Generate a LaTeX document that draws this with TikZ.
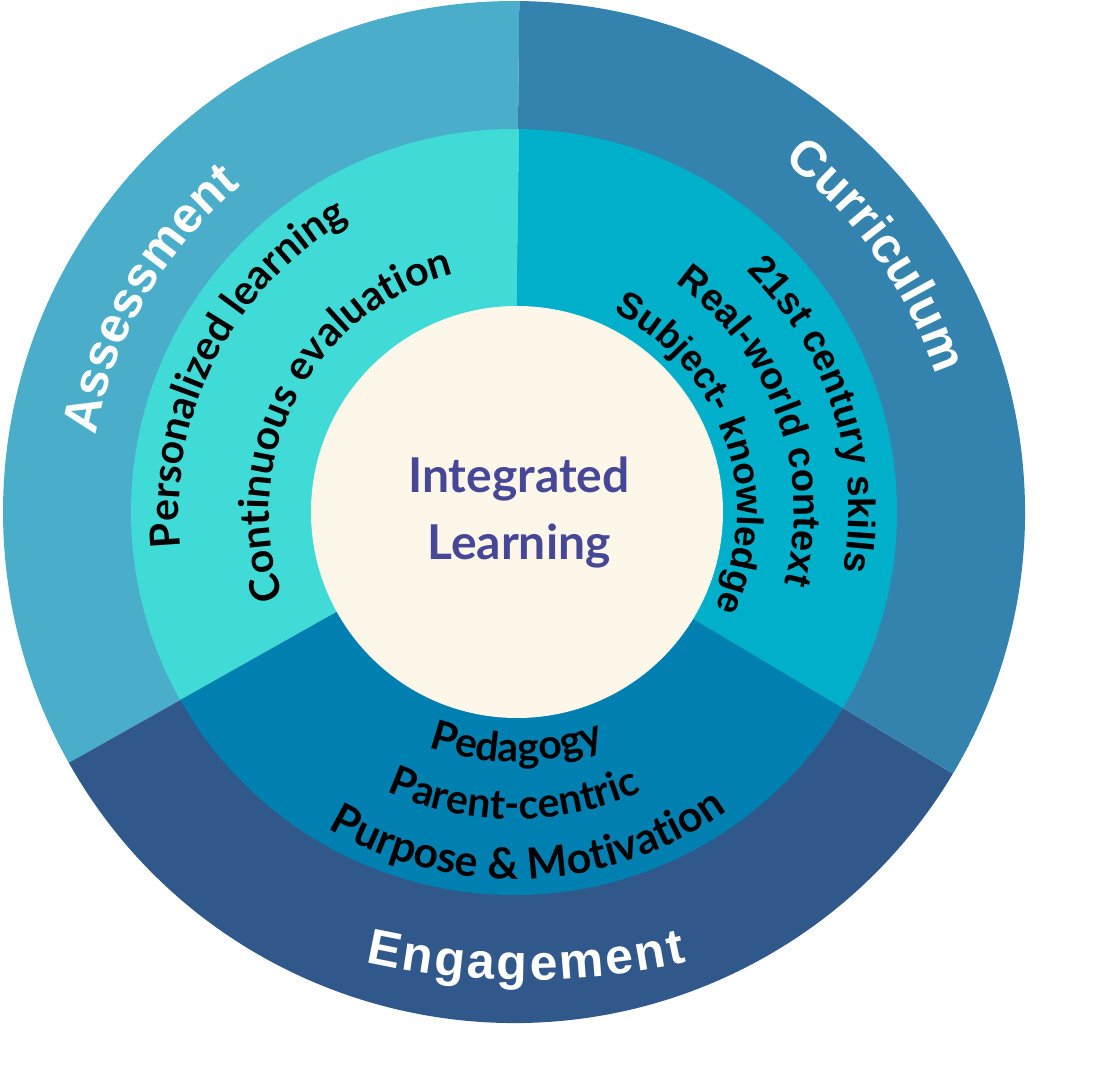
\documentclass[tikz,border=0pt]{standalone}
\usepackage{fontspec}
\usetikzlibrary{decorations.text}
\newfontfamily\latofam{Lato}
\newfontfamily\helvfam{Liberation Sans}
\definecolor{oA}{HTML}{4AAECB}
\definecolor{oC}{HTML}{3383AE}
\definecolor{oE}{HTML}{30588A}
\definecolor{mA}{HTML}{40DBD7}
\definecolor{mC}{HTML}{00AFCA}
\definecolor{mE}{HTML}{0080B1}
\definecolor{core}{HTML}{FDF7EA}
\definecolor{titlecol}{HTML}{464796}
\newcommand\wfont[1]{\color{white}\helvfam\bfseries\fontsize{#1}{#1}\selectfont}
\newcommand\lfont[1]{\color{black}\latofam\bfseries\fontsize{#1}{#1}\selectfont}
\newcommand\hfont[1]{\color{black}\helvfam\bfseries\fontsize{#1}{#1}\selectfont}
\begin{document}
\begin{tikzpicture}[x=1pt,y=1pt,
  curved/.style={decorate,decoration={text along path,text align=center,text={#1}}},
  fitted/.style={decorate,decoration={text along path,text align=fit to path,text={#1}}},
  title/.style={text=titlecol,font=\latofam\bfseries\fontsize{48}{58}\selectfont,anchor=base,inner sep=0pt}]
\useasboundingbox (-514,-569) rectangle (598,512);
% outer ring
\fill[oA] (0,0) -- (89.4:511) arc[start angle=89.4,end angle=209.4,radius=511] -- cycle;
\fill[oE] (0,0) -- (209.4:511) arc[start angle=209.4,end angle=329.2,radius=511] -- cycle;
\fill[oC] (0,0) -- (329.2:511) arc[start angle=329.2,end angle=449.4,radius=511] -- cycle;
% middle ring
\fill[mA] (0,0) -- (89.2:383) arc[start angle=89.2,end angle=209.4,radius=383] -- cycle;
\fill[mE] (0,0) -- (209.4:383) arc[start angle=209.4,end angle=329.2,radius=383] -- cycle;
\fill[mC] (0,0) -- (329.2:383) arc[start angle=329.2,end angle=449.2,radius=383] -- cycle;
% core
\fill[core] (3,0) circle[radius=206];
\node[title] (t1) at (5,19) {Integrated};
\node[title] (t2) at (5,-48) {Learning};
% outer labels
\path[curved={|\wfont{50}|Assessment}] (184.75:425) arc[start angle=184.75,end angle=114.75,radius=425];
\path[curved={|\wfont{50}|Curriculum}] (70.25:443) arc[start angle=70.25,end angle=0.25,radius=443];
\path[shift={(12,275)},fitted={|\wfont{50}|Engagement}] (257.5:743) arc[start angle=257.5,end angle=282.5,radius=743];
% assessment items
\path[curved={|\lfont{41}|Personalized learning}] (207.75:335) arc[start angle=207.75,end angle=97.75,radius=335];
\path[curved={|\lfont{41}|Continuous evaluation}] (212.25:245) arc[start angle=212.25,end angle=92.25,radius=245];
% curriculum items
\path[curved={|\hfont{38}|21st century skills}] (68:335) arc[start angle=68,end angle=-32,radius=335];
\path[curved={|\hfont{38}|Real-world context}] (75:280) arc[start angle=75,end angle=-35,radius=280];
\path[curved={|\hfont{37}|Subject- knowledge}] (79:223) arc[start angle=79,end angle=-41,radius=223];
% engagement items
\path[curved={|\lfont{41}|Pedagogy}] (230.75:250) arc[start angle=230.75,end angle=310.75,radius=250];
\path[curved={|\lfont{41}|Parent-centric}] (225:307) arc[start angle=225,end angle=315,radius=307];
\path[curved={|\lfont{43}|Purpose {\&} Motivation}] (227.5:367) arc[start angle=227.5,end angle=317.5,radius=367];
\end{tikzpicture}
\end{document}
